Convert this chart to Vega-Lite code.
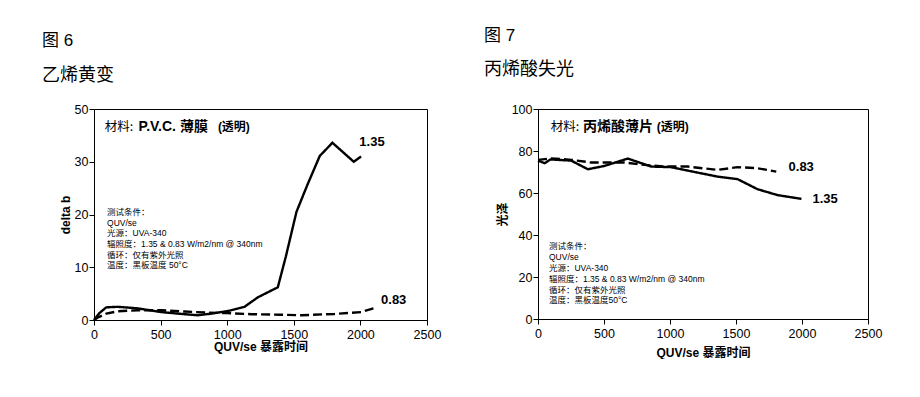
{
  "$schema": "https://vega.github.io/schema/vega-lite/v6.json",
  "background": "white",
  "autosize": {"type": "pad"},
  "padding": {"left": 41, "top": 26, "right": 0, "bottom": 0},
  "spacing": 111,
  "bounds": "flush",
  "datasets": {
    "pvc": [
      {"series": "1.35", "t": 0, "v": 0},
      {"series": "1.35", "t": 40, "v": 1.3},
      {"series": "1.35", "t": 92, "v": 2.4},
      {"series": "1.35", "t": 180, "v": 2.5},
      {"series": "1.35", "t": 330, "v": 2.2},
      {"series": "1.35", "t": 505, "v": 1.5},
      {"series": "1.35", "t": 680, "v": 1.1},
      {"series": "1.35", "t": 780, "v": 0.9},
      {"series": "1.35", "t": 880, "v": 1.2},
      {"series": "1.35", "t": 1005, "v": 1.7},
      {"series": "1.35", "t": 1130, "v": 2.5},
      {"series": "1.35", "t": 1230, "v": 4.3},
      {"series": "1.35", "t": 1380, "v": 6.2},
      {"series": "1.35", "t": 1440, "v": 12},
      {"series": "1.35", "t": 1520, "v": 20.5},
      {"series": "1.35", "t": 1600, "v": 25.5},
      {"series": "1.35", "t": 1695, "v": 31.1},
      {"series": "1.35", "t": 1790, "v": 33.6},
      {"series": "1.35", "t": 1950, "v": 30},
      {"series": "1.35", "t": 2005, "v": 31},
      {"series": "0.83", "t": 0, "v": 0},
      {"series": "0.83", "t": 40, "v": 0.6},
      {"series": "0.83", "t": 92, "v": 1.2},
      {"series": "0.83", "t": 180, "v": 1.65},
      {"series": "0.83", "t": 330, "v": 1.85},
      {"series": "0.83", "t": 505, "v": 1.85},
      {"series": "0.83", "t": 680, "v": 1.6},
      {"series": "0.83", "t": 855, "v": 1.4},
      {"series": "0.83", "t": 1000, "v": 1.3},
      {"series": "0.83", "t": 1180, "v": 1.1},
      {"series": "0.83", "t": 1400, "v": 1.0},
      {"series": "0.83", "t": 1555, "v": 0.9},
      {"series": "0.83", "t": 1805, "v": 1.15},
      {"series": "0.83", "t": 2005, "v": 1.5},
      {"series": "0.83", "t": 2117, "v": 2.35}
    ],
    "acr": [
      {"series": "1.35", "t": 0, "v": 75.4},
      {"series": "1.35", "t": 50, "v": 74.2},
      {"series": "1.35", "t": 96, "v": 76},
      {"series": "1.35", "t": 252, "v": 75.4},
      {"series": "1.35", "t": 378, "v": 71.3},
      {"series": "1.35", "t": 504, "v": 72.9},
      {"series": "1.35", "t": 680, "v": 76.4},
      {"series": "1.35", "t": 857, "v": 72.6},
      {"series": "1.35", "t": 1008, "v": 72.3},
      {"series": "1.35", "t": 1210, "v": 69.7},
      {"series": "1.35", "t": 1361, "v": 67.8},
      {"series": "1.35", "t": 1512, "v": 66.6},
      {"series": "1.35", "t": 1663, "v": 61.8},
      {"series": "1.35", "t": 1815, "v": 59},
      {"series": "1.35", "t": 1996, "v": 57.2},
      {"series": "0.83", "t": 0, "v": 75.8},
      {"series": "0.83", "t": 100, "v": 76.5},
      {"series": "0.83", "t": 252, "v": 75.8},
      {"series": "0.83", "t": 403, "v": 74.5},
      {"series": "0.83", "t": 655, "v": 74.5},
      {"series": "0.83", "t": 806, "v": 73.4},
      {"series": "0.83", "t": 958, "v": 72.6},
      {"series": "0.83", "t": 1134, "v": 72.6},
      {"series": "0.83", "t": 1361, "v": 71},
      {"series": "0.83", "t": 1512, "v": 72.3},
      {"series": "0.83", "t": 1663, "v": 71.8},
      {"series": "0.83", "t": 1805, "v": 70.2}
    ],
    "one": [{}]
  },
  "config": {
    "view": {"stroke": "black", "strokeWidth": 1},
    "font": "Liberation Sans, Noto Sans CJK SC",
    "axis": {
      "grid": false,
      "domain": true,
      "ticks": true,
      "domainColor": "black",
      "tickColor": "black",
      "tickWidth": 1,
      "tickOpacity": 1,
      "tickSize": 5,
      "labelColor": "black",
      "labelFont": "Liberation Sans",
      "labelFontSize": 12.5,
      "titleColor": "black",
      "titleFont": "Liberation Sans, Noto Sans CJK SC",
      "titleFontSize": 12,
      "titleFontWeight": "bold"
    },
    "title": {
      "color": "black",
      "subtitleColor": "black",
      "font": "Liberation Sans, Noto Sans CJK SC",
      "subtitleFont": "Noto Sans CJK SC",
      "fontSize": 17,
      "fontWeight": "normal",
      "subtitleFontSize": 18,
      "anchor": "start",
      "frame": "group"
    },
    "text": {"font": "Liberation Sans, Noto Sans CJK SC", "color": "black"}
  },
  "hconcat": [
    {
      "width": 333,
      "height": 211,
      "title": {"text": "图 6", "subtitle": "乙烯黄变", "dx": -52, "offset": 17, "subtitlePadding": 17},
      "layer": [
        {
          "data": {"name": "pvc"},
          "mark": {"type": "line", "color": "black", "strokeWidth": 2.4},
          "encoding": {
            "x": {"field": "t", "type": "quantitative", "scale": {"domain": [0, 2500], "nice": false},
              "axis": {"title": "QUV/se 暴露时间", "values": [0, 250, 500, 750, 1000, 1250, 1500, 1750, 2000, 2250, 2500], "format": "d", "labelExpr": "datum.value % 500 === 0 ? datum.label : ''", "labelPadding": 3, "titlePadding": 1, "labelFlush": false}},
            "y": {"field": "v", "type": "quantitative", "scale": {"domain": [0, 40], "nice": false},
              "axis": {"title": "delta b", "values": [0, 10, 20, 30, 40], "format": "d", "labelExpr": "datum.value === 40 ? '50' : datum.label", "labelPadding": 1, "titlePadding": 2}},
            "strokeDash": {"field": "series", "type": "nominal", "scale": {"domain": ["1.35", "0.83"], "range": [[1, 0], [9, 4]]}, "legend": null},
            "order": {"field": "t", "type": "quantitative"}
          }
        },
        {
          "data": {"name": "one"},
          "mark": {"type": "text", "align": "left", "baseline": "middle", "fontSize": 13, "fontWeight": "bold"},
          "encoding": {"x": {"datum": 1992}, "y": {"datum": 33.7}, "text": {"value": "1.35"}}
        },
        {
          "data": {"name": "one"},
          "mark": {"type": "text", "align": "left", "baseline": "middle", "fontSize": 13, "fontWeight": "bold"},
          "encoding": {"x": {"datum": 2155}, "y": {"datum": 3.8}, "text": {"value": "0.83"}}
        },
        {
          "data": {"name": "one"},
          "mark": {"type": "text", "align": "left", "baseline": "middle", "fontSize": 12.5, "font": "Noto Sans CJK SC"},
          "encoding": {"x": {"datum": 80}, "y": {"datum": 36.6}, "text": {"value": "材料:"}}
        },
        {
          "data": {"name": "one"},
          "mark": {"type": "text", "align": "left", "baseline": "middle", "fontSize": 14, "fontWeight": "bold"},
          "encoding": {"x": {"datum": 335}, "y": {"datum": 36.6}, "text": {"value": "P.V.C. 薄膜"}}
        },
        {
          "data": {"name": "one"},
          "mark": {"type": "text", "align": "left", "baseline": "middle", "fontSize": 12, "fontWeight": "bold"},
          "encoding": {"x": {"datum": 930}, "y": {"datum": 36.6}, "text": {"value": "(透明)"}}
        },
        {
          "data": {"name": "one"},
          "mark": {"type": "text", "align": "left", "baseline": "middle", "fontSize": 8.5, "lineHeight": 10.7},
          "encoding": {"x": {"datum": 98}, "y": {"datum": 20.5}, "text": {"value": ["测试条件：", "QUV/se", "光源：UVA-340", "辐照度：1.35 & 0.83 W/m2/nm @ 340nm", "循环：仅有紫外光照", "温度：黑板温度  50°C"]}}
        }
      ]
    },
    {
      "width": 330,
      "height": 210,
      "title": {"text": "图 7", "subtitle": "丙烯酸失光", "dx": -54, "offset": 23, "subtitlePadding": 16},
      "layer": [
        {
          "data": {"name": "acr"},
          "mark": {"type": "line", "color": "black", "strokeWidth": 2.4},
          "encoding": {
            "x": {"field": "t", "type": "quantitative", "scale": {"domain": [0, 2500], "nice": false},
              "axis": {"title": "QUV/se 暴露时间", "values": [0, 250, 500, 750, 1000, 1250, 1500, 1750, 2000, 2250, 2500], "format": "d", "labelExpr": "datum.value % 500 === 0 ? datum.label : ''", "labelPadding": 3, "titlePadding": 8, "labelFlush": false}},
            "y": {"field": "v", "type": "quantitative", "scale": {"domain": [0, 100], "nice": false},
              "axis": {"title": "光泽", "values": [0, 5, 10, 15, 20, 25, 30, 35, 40, 45, 50, 55, 60, 65, 70, 75, 80, 85, 90, 95, 100], "format": "d", "labelExpr": "datum.value % 10 === 0 ? datum.label : ''", "labelPadding": 1, "titlePadding": 2}},
            "strokeDash": {"field": "series", "type": "nominal", "scale": {"domain": ["1.35", "0.83"], "range": [[1, 0], [9, 4]]}, "legend": null},
            "order": {"field": "t", "type": "quantitative"}
          }
        },
        {
          "data": {"name": "one"},
          "mark": {"type": "text", "align": "left", "baseline": "middle", "fontSize": 13, "fontWeight": "bold"},
          "encoding": {"x": {"datum": 1898}, "y": {"datum": 72.3}, "text": {"value": "0.83"}}
        },
        {
          "data": {"name": "one"},
          "mark": {"type": "text", "align": "left", "baseline": "middle", "fontSize": 13, "fontWeight": "bold"},
          "encoding": {"x": {"datum": 2079}, "y": {"datum": 57}, "text": {"value": "1.35"}}
        },
        {
          "data": {"name": "one"},
          "mark": {"type": "text", "align": "left", "baseline": "middle", "fontSize": 12.5, "font": "Noto Sans CJK SC"},
          "encoding": {"x": {"datum": 96}, "y": {"datum": 91.3}, "text": {"value": "材料:"}}
        },
        {
          "data": {"name": "one"},
          "mark": {"type": "text", "align": "left", "baseline": "middle", "fontSize": 14, "fontWeight": "bold"},
          "encoding": {"x": {"datum": 340}, "y": {"datum": 91.3}, "text": {"value": "丙烯酸薄片"}}
        },
        {
          "data": {"name": "one"},
          "mark": {"type": "text", "align": "left", "baseline": "middle", "fontSize": 12, "fontWeight": "bold"},
          "encoding": {"x": {"datum": 900}, "y": {"datum": 91.3}, "text": {"value": "(透明)"}}
        },
        {
          "data": {"name": "one"},
          "mark": {"type": "text", "align": "left", "baseline": "middle", "fontSize": 8.5, "lineHeight": 10.9},
          "encoding": {"x": {"datum": 83}, "y": {"datum": 34.8}, "text": {"value": ["测试条件：", "QUV/se", "光源：UVA-340", "辐照度：1.35 & 0.83 W/m2/nm @ 340nm", "循环：仅有紫外光照", "温度：黑板温度50°C"]}}
        }
      ]
    }
  ]
}
